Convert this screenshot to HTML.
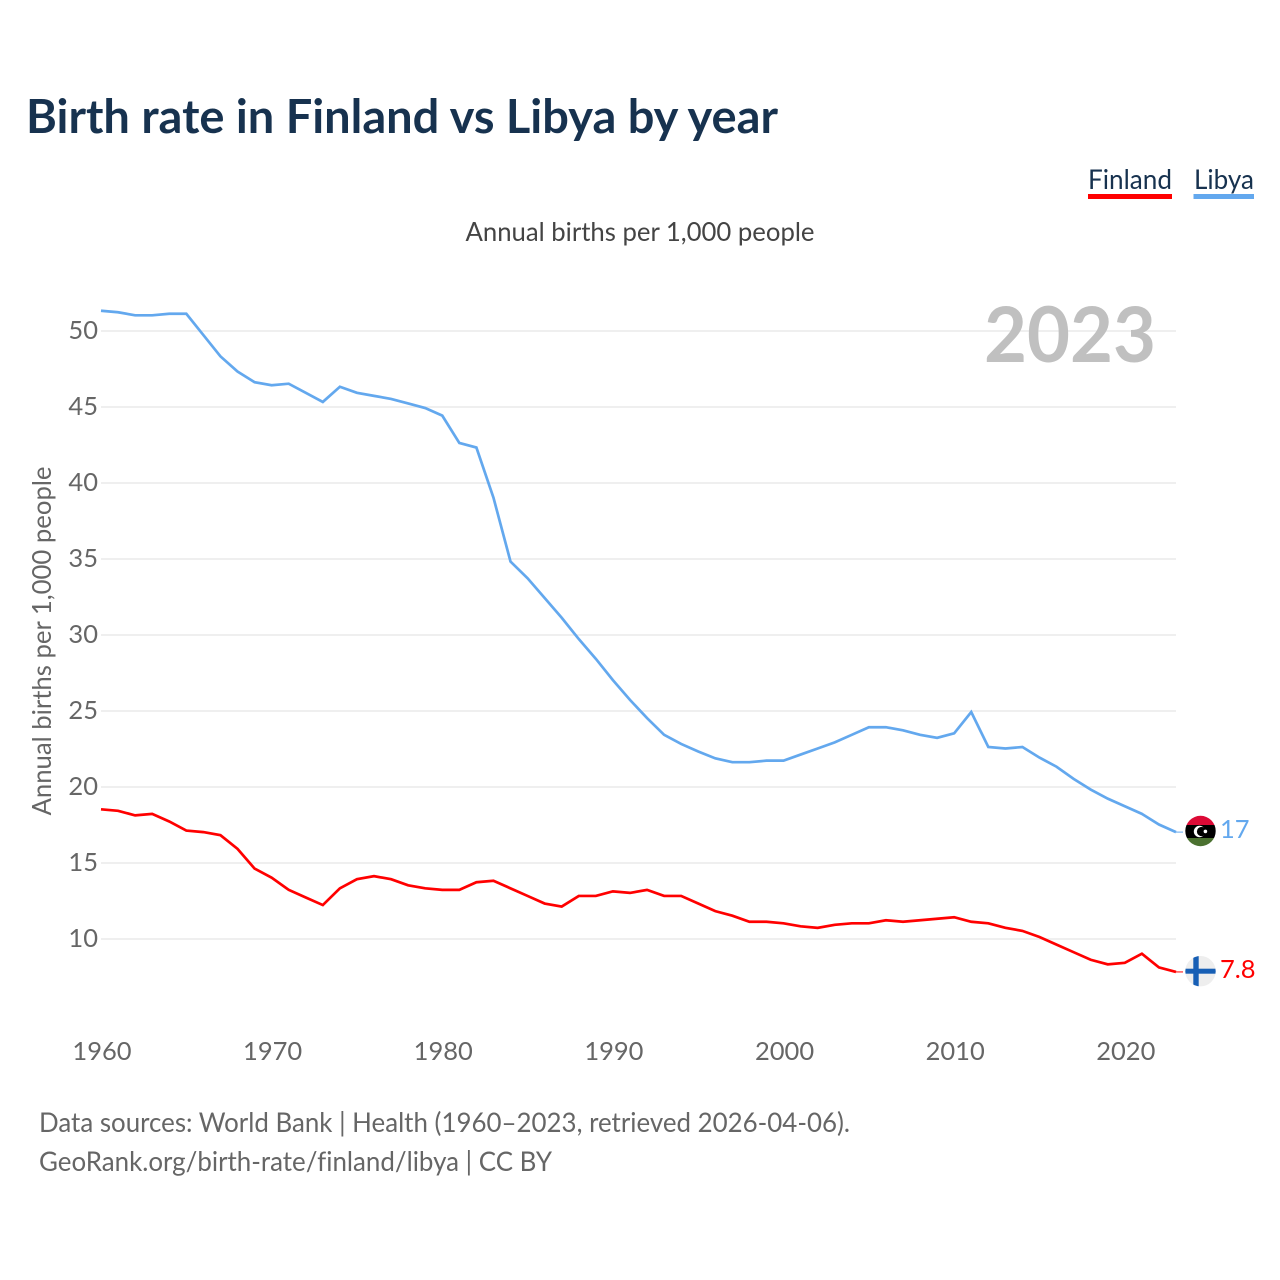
<!DOCTYPE html>
<html lang="en">
<head>
<meta charset="utf-8">
<title>Birth rate in Finland vs Libya by year</title>
<style>
html,body{margin:0;padding:0;background:#fff;width:1280px;height:1280px;overflow:hidden}
svg{display:block}
text{font-family:"Lato","Carlito","Liberation Sans",sans-serif;font-variant-ligatures:none}
</style>
</head>
<body>
<svg id="chart" xmlns="http://www.w3.org/2000/svg" width="1280" height="1280" viewBox="0 0 1280 1280">
  <defs>
    <clipPath id="clip-ly"><circle cx="1200.5" cy="831" r="15.2"/></clipPath>
    <clipPath id="clip-fi"><circle cx="1200.5" cy="971.2" r="15.2"/></clipPath>
  </defs>
  <text x="26" y="133" font-size="46.5" font-weight="700" fill="#17324f" textLength="752" lengthAdjust="spacingAndGlyphs">Birth rate in Finland vs Libya by year</text>
  <g>
    <g>
      <text x="1088" y="189" font-size="27" fill="#17324f" textLength="84" lengthAdjust="spacingAndGlyphs">Finland</text>
      <rect x="1088" y="194" width="84" height="5" fill="#ff0000"/>
    </g>
    <g>
      <text x="1194" y="189" font-size="27" fill="#17324f" textLength="60" lengthAdjust="spacingAndGlyphs">Libya</text>
      <rect x="1193.5" y="194" width="60.5" height="5" fill="#63a8ee"/>
    </g>
  </g>
  <text x="640" y="241" font-size="26" fill="#444444" text-anchor="middle" textLength="349" lengthAdjust="spacingAndGlyphs">Annual births per 1,000 people</text>
  <text transform="translate(51 641) rotate(-90)" font-size="26" fill="#666666" text-anchor="middle" textLength="349" lengthAdjust="spacingAndGlyphs">Annual births per 1,000 people</text>
  <g id="grid"></g>
  <g id="yticks"></g>
  <g id="xticks"></g>
  <text x="1156" y="362" font-size="77" font-weight="700" fill="#c0c0c0" text-anchor="end" textLength="172" lengthAdjust="spacingAndGlyphs">2023</text>
  <g id="series" transform="translate(0 -0.5)"></g>
  <g clip-path="url(#clip-ly)">
    <rect x="1185" y="815" width="31" height="10" fill="#dc0a36"/>
    <rect x="1185" y="825" width="31" height="13" fill="#000000"/>
    <rect x="1185" y="838" width="31" height="10" fill="#4b7130"/>
    <circle cx="1199.5" cy="831.5" r="5.7" fill="#ffffff"/>
    <circle cx="1201.5" cy="831.5" r="4.6" fill="#000000"/>
    <circle cx="1205.4" cy="831.4" r="1.8" fill="#ffffff"/>
  </g>
  <g clip-path="url(#clip-fi)">
    <rect x="1185" y="955" width="31" height="32" fill="#eeeeee"/>
    <rect x="1193.3" y="955" width="5.4" height="32" fill="#175fb5"/>
    <rect x="1185" y="968.7" width="31" height="5" fill="#175fb5"/>
  </g>
  <text id="label-libya" x="1220" y="838" font-size="25.5" fill="#63a8ee"></text>
  <text id="label-finland" x="1220" y="978" font-size="25.5" fill="#ff0000"></text>
  <text x="39" y="1132" font-size="27" fill="#666666" textLength="811" lengthAdjust="spacingAndGlyphs">Data sources: World Bank | Health (1960–2023, retrieved 2026-04-06).</text>
  <a><text x="39" y="1171" font-size="27" fill="#666666" textLength="513" lengthAdjust="spacingAndGlyphs">GeoRank.org/birth-rate/finland/libya | CC BY</text></a>
</svg>
<script>
const startYear = 1960;
const yTickValues = [10, 15, 20, 25, 30, 35, 40, 45, 50];
const xTickValues = [1960, 1970, 1980, 1990, 2000, 2010, 2020];
const libyaValues = [51.3, 51.2, 51.0, 51.0, 51.1, 51.1, 49.7, 48.3, 47.3, 46.6, 46.4, 46.5, 45.9, 45.3, 46.3, 45.9, 45.7, 45.5, 45.2, 44.9, 44.4, 42.6, 42.3, 39.0, 34.8, 33.7, 32.4, 31.1, 29.7, 28.4, 27.0, 25.7, 24.5, 23.4, 22.8, 22.3, 21.85, 21.6, 21.6, 21.7, 21.7, 22.1, 22.5, 22.9, 23.4, 23.9, 23.9, 23.7, 23.4, 23.2, 23.5, 24.9, 22.6, 22.5, 22.6, 21.9, 21.3, 20.5, 19.8, 19.2, 18.7, 18.2, 17.5, 17.0];
const finlandValues = [18.5, 18.4, 18.1, 18.2, 17.7, 17.1, 17.0, 16.8, 15.9, 14.6, 14.0, 13.2, 12.7, 12.2, 13.3, 13.9, 14.1, 13.9, 13.5, 13.3, 13.2, 13.2, 13.7, 13.8, 13.3, 12.8, 12.3, 12.1, 12.8, 12.8, 13.1, 13.0, 13.2, 12.8, 12.8, 12.3, 11.8, 11.5, 11.1, 11.1, 11.0, 10.8, 10.7, 10.9, 11.0, 11.0, 11.2, 11.1, 11.2, 11.3, 11.4, 11.1, 11.0, 10.7, 10.5, 10.1, 9.6, 9.1, 8.6, 8.3, 8.4, 9.0, 8.1, 7.8];

const NS = 'http://www.w3.org/2000/svg';
function xScale(year) { return 101 + (year - 1960) * (1075 / 63); }
function yScale(v) { return 939 - (v - 10) * 15.2; }

const grid = document.getElementById('grid');
const yticks = document.getElementById('yticks');
const xticks = document.getElementById('xticks');
const series = document.getElementById('series');

yTickValues.forEach(function (v) {
  const line = document.createElementNS(NS, 'line');
  
  
  line.setAttribute('x1', 101);
  line.setAttribute('x2', 1176);
  line.setAttribute('y1', yScale(v));
  line.setAttribute('y2', yScale(v));
  line.setAttribute('stroke', '#eaeaea');
  line.setAttribute('stroke-width', 1.5);
  grid.appendChild(line);

  const t = document.createElementNS(NS, 'text');
  
  
  t.setAttribute('x', 98);
  t.setAttribute('y', yScale(v) + 8);
  t.setAttribute('font-size', 25.5);
  t.setAttribute('fill', '#666666');
  t.setAttribute('text-anchor', 'end');
  t.textContent = v;
  yticks.appendChild(t);
});

xTickValues.forEach(function (year) {
  const t = document.createElementNS(NS, 'text');
  
  
  t.setAttribute('x', xScale(year) + 1);
  t.setAttribute('y', 1060);
  t.setAttribute('font-size', 25.5);
  t.setAttribute('fill', '#666666');
  t.setAttribute('text-anchor', 'middle');
  t.textContent = year;
  xticks.appendChild(t);
});

function drawSeries(values, color, name) {
  const d = values.map(function (v, i) {
    return (i ? 'L' : 'M') + xScale(startYear + i).toFixed(2) + ' ' + yScale(v).toFixed(2);
  }).join(' ');
  const path = document.createElementNS(NS, 'path');
  
  
  path.setAttribute('d', d);
  path.setAttribute('fill', 'none');
  path.setAttribute('stroke', color);
  path.setAttribute('stroke-width', 2.7);
  path.setAttribute('stroke-linejoin', 'miter');
  series.appendChild(path);

  const last = values[values.length - 1];
  const leader = document.createElementNS(NS, 'line');
  
  
  leader.setAttribute('x1', xScale(startYear + values.length - 1));
  leader.setAttribute('x2', xScale(startYear + values.length - 1) + 7);
  leader.setAttribute('y1', yScale(last));
  leader.setAttribute('y2', yScale(last));
  leader.setAttribute('stroke', color);
  leader.setAttribute('stroke-width', 1);
  series.appendChild(leader);
}

drawSeries(libyaValues, '#63a8ee', 'libya');
drawSeries(finlandValues, '#ff0000', 'finland');

document.getElementById('label-libya').textContent = libyaValues[libyaValues.length - 1];
document.getElementById('label-finland').textContent = finlandValues[finlandValues.length - 1];
</script>
</body>
</html>
